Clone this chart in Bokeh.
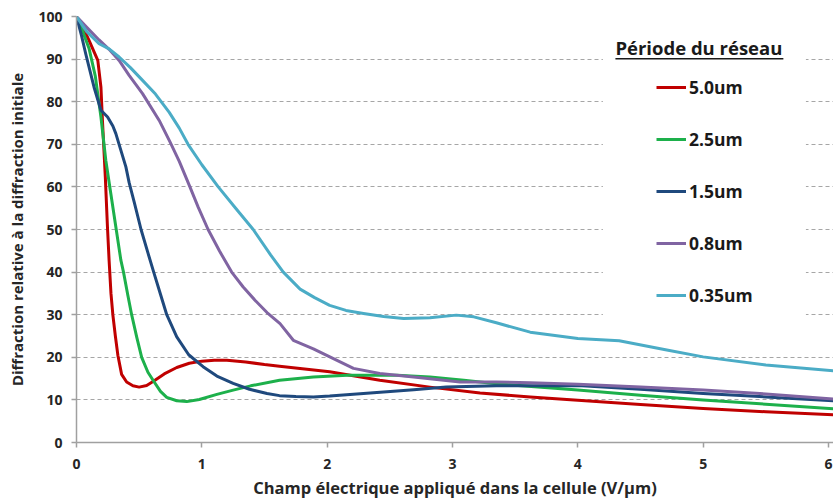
from bokeh.plotting import figure
from bokeh.models import (Legend, LegendItem, Label, BoxAnnotation, Arrow,
                          Range1d, FixedTicker, ColumnDataSource)
from bokeh.embed import file_html
from bokeh.resources import INLINE

# ---- data ----
series_names = ["5.0um", "2.5um", "1.5um", "0.8um", "0.35um"]
series_colors = ["#C00000", "#1DB04B", "#1F497D", "#8064A2", "#4BACC6"]

x_50 = [0, 0.05, 0.10, 0.17, 0.195, 0.207, 0.23, 0.247, 0.26, 0.275, 0.29, 0.31, 0.33,
        0.36, 0.40, 0.45, 0.50, 0.56, 0.62, 0.70, 0.80, 0.90, 1.0, 1.1, 1.2, 1.35, 1.5,
        1.62, 2.02, 2.42, 2.82, 3.22, 3.62, 4.0, 4.5, 5.0, 5.5, 6.05]
y_50 = [100, 97.5, 94.4, 89.7, 83.4, 75.6, 62.3, 50.6, 42.8, 35, 30, 25, 20.5,
        16.0, 14.2, 13.3, 13.0, 13.4, 14.5, 16.1, 17.6, 18.6, 19.1, 19.3, 19.3, 18.9, 18.3,
        17.9, 16.6, 14.6, 13.0, 11.6, 10.7, 9.9, 8.9, 8.0, 7.2, 6.5]

x_25 = [0, 0.05, 0.10, 0.15, 0.195, 0.234, 0.274, 0.314, 0.354, 0.375, 0.41, 0.44, 0.48,
        0.52, 0.57, 0.62, 0.67, 0.72, 0.80, 0.88, 0.98, 1.12, 1.25, 1.39, 1.62, 1.89,
        2.16, 2.56, 2.82, 3.09, 3.35, 4.0, 4.5, 5.0, 5.5, 6.05]
y_25 = [100, 96.5, 92.5, 86, 76.4, 66.2, 58.4, 50.6, 42.8, 40, 34.5, 30, 24.8,
        20, 16.5, 14.2, 12, 10.6, 9.8, 9.6, 10.1, 11.3, 12.3, 13.3, 14.6, 15.4,
        15.8, 15.8, 15.4, 14.6, 13.8, 12.3, 11.1, 10.0, 9.0, 7.9]

x_15 = [0, 0.04, 0.074, 0.14, 0.195, 0.248, 0.29, 0.314, 0.35, 0.394, 0.42, 0.46, 0.515,
        0.57, 0.616, 0.67, 0.72, 0.80, 0.895, 1.01, 1.12, 1.25, 1.38, 1.52, 1.62, 1.75,
        1.89, 2.02, 2.29, 2.69, 2.95, 3.35, 3.62, 4.0, 4.5, 5.0, 5.5, 6.05]
y_15 = [100, 95.5, 91.2, 83.4, 78, 76.4, 74.3, 72.5, 69, 64.7, 61, 56.5, 50,
        44.5, 40, 34.8, 30, 24.8, 20.6, 17.8, 15.6, 13.9, 12.5, 11.5, 11.0, 10.8,
        10.7, 10.9, 11.5, 12.4, 13.0, 13.3, 13.3, 13.4, 12.5, 11.5, 10.7, 9.8]

x_08 = [0, 0.08, 0.18, 0.26, 0.34, 0.42, 0.527, 0.66, 0.747, 0.82, 0.905, 0.97, 1.05,
        1.14, 1.238, 1.33, 1.424, 1.52, 1.624, 1.73, 1.89, 2.05, 2.21, 2.42, 2.69, 3.06,
        3.35, 3.62, 4.0, 4.5, 5.0, 5.5, 6.05]
y_08 = [100, 97.5, 94.5, 92.3, 89.7, 86.2, 81.9, 75.6, 70.5, 66, 60, 55.3, 50,
        45, 40, 36.5, 33.4, 30.5, 27.9, 24, 22, 19.7, 17.4, 16.2, 15.4, 14.2,
        14.2, 14.0, 13.7, 13.0, 12.3, 11.4, 10.2]

x_035 = [0, 0.08, 0.18, 0.26, 0.34, 0.43, 0.527, 0.63, 0.74, 0.82, 0.89, 1.0, 1.131,
         1.27, 1.41, 1.55, 1.65, 1.784, 1.9, 2.02, 2.15, 2.29, 2.45, 2.61, 2.82, 3.03,
         3.17, 3.35, 3.62, 4.0, 4.33, 4.71, 5.0, 5.5, 6.05]
y_035 = [100, 96.5, 93.6, 92.4, 90.5, 88, 85, 81.8, 77.5, 73.8, 70, 65.2, 60,
         55, 50, 44, 40, 36, 34, 32.2, 31, 30.3, 29.6, 29.1, 29.3, 29.9,
         29.5, 28.1, 25.9, 24.4, 23.9, 21.7, 20.1, 18.2, 16.8]

xs = [x_50, x_25, x_15, x_08, x_035]
ys = [y_50, y_25, y_15, y_08, y_035]

x_ticks = [0, 1, 2, 3, 4, 5, 6]
y_ticks = [0, 10, 20, 30, 40, 50, 60, 70, 80, 90, 100]

FONT = "Open Sans"
TXT = "#262626"

p = figure(width=833, height=502, output_backend="svg", toolbar_location=None,
           x_range=Range1d(0, 6.04), y_range=Range1d(0, 100),
           min_border_left=76, min_border_right=0, min_border_top=16, min_border_bottom=60)
p.outline_line_color = None
p.background_fill_color = "white"

for ax in (p.xaxis[0], p.yaxis[0]):
    ax.axis_line_color = "#A0A0A0"
    ax.axis_line_width = 1.5
    ax.major_tick_line_color = "#A0A0A0"
    ax.major_tick_line_width = 1.5
    ax.major_tick_out = 5
    ax.major_tick_in = 0
    ax.minor_tick_line_color = None
    ax.major_label_text_font = FONT
    ax.major_label_text_font_style = "bold"
    ax.major_label_text_font_size = "14px"
    ax.major_label_text_color = TXT
    ax.axis_label_text_font = FONT
    ax.axis_label_text_font_style = "bold"
    ax.axis_label_text_color = TXT

p.xaxis.ticker = FixedTicker(ticks=x_ticks)
p.yaxis.ticker = FixedTicker(ticks=y_ticks)
p.xaxis.major_label_standoff = 11
p.yaxis.major_label_standoff = 9
p.xaxis.axis_label = "Champ électrique appliqué dans la cellule (V/µm)"
p.yaxis.axis_label = "Diffraction relative à la diffraction initiale"
p.xaxis.axis_label_text_font_size = "16.5px"
p.yaxis.axis_label_text_font_size = "15px"
p.xaxis.axis_label_standoff = 4
p.yaxis.axis_label_standoff = 8

p.xgrid.grid_line_color = None
p.ygrid.grid_line_color = "#A6A6A6"
p.ygrid.grid_line_dash = "4 3"
p.ygrid.grid_line_width = 1

renderers = []
for xv, yv, c in zip(xs, ys, series_colors):
    src = ColumnDataSource(dict(x=xv, y=yv))
    r = p.line("x", "y", source=src, line_color=c, line_width=3, line_join="round")
    renderers.append(r)

# white legend area
p.add_layout(BoxAnnotation(left=4.20, right=5.82, bottom=27.5, top=97.2,
                           fill_color="white", fill_alpha=1, line_color=None))

p.add_layout(Label(x=4.30, y=92.7, text="Période du réseau", text_font=FONT,
                   text_font_style="bold", text_font_size="18.5px", text_color="#1a1a1a",
                   text_baseline="middle"))
p.add_layout(Arrow(end=None, x_start=4.30, y_start=90.1, x_end=5.64, y_end=90.1,
                   line_color="#1a1a1a", line_width=1.5))

legend = Legend(items=[LegendItem(label=n, renderers=[r]) for n, r in zip(series_names, renderers)],
                location=(580, 135), orientation="vertical",
                glyph_width=30, glyph_height=20, label_height=20, label_standoff=3,
                spacing=28, padding=10, margin=0,
                label_text_font=FONT, label_text_font_style="bold",
                label_text_font_size="17.5px", label_text_color="#1a1a1a",
                background_fill_alpha=0, border_line_color=None)
p.add_layout(legend)

open("out.html", "w").write(file_html(p, INLINE))
